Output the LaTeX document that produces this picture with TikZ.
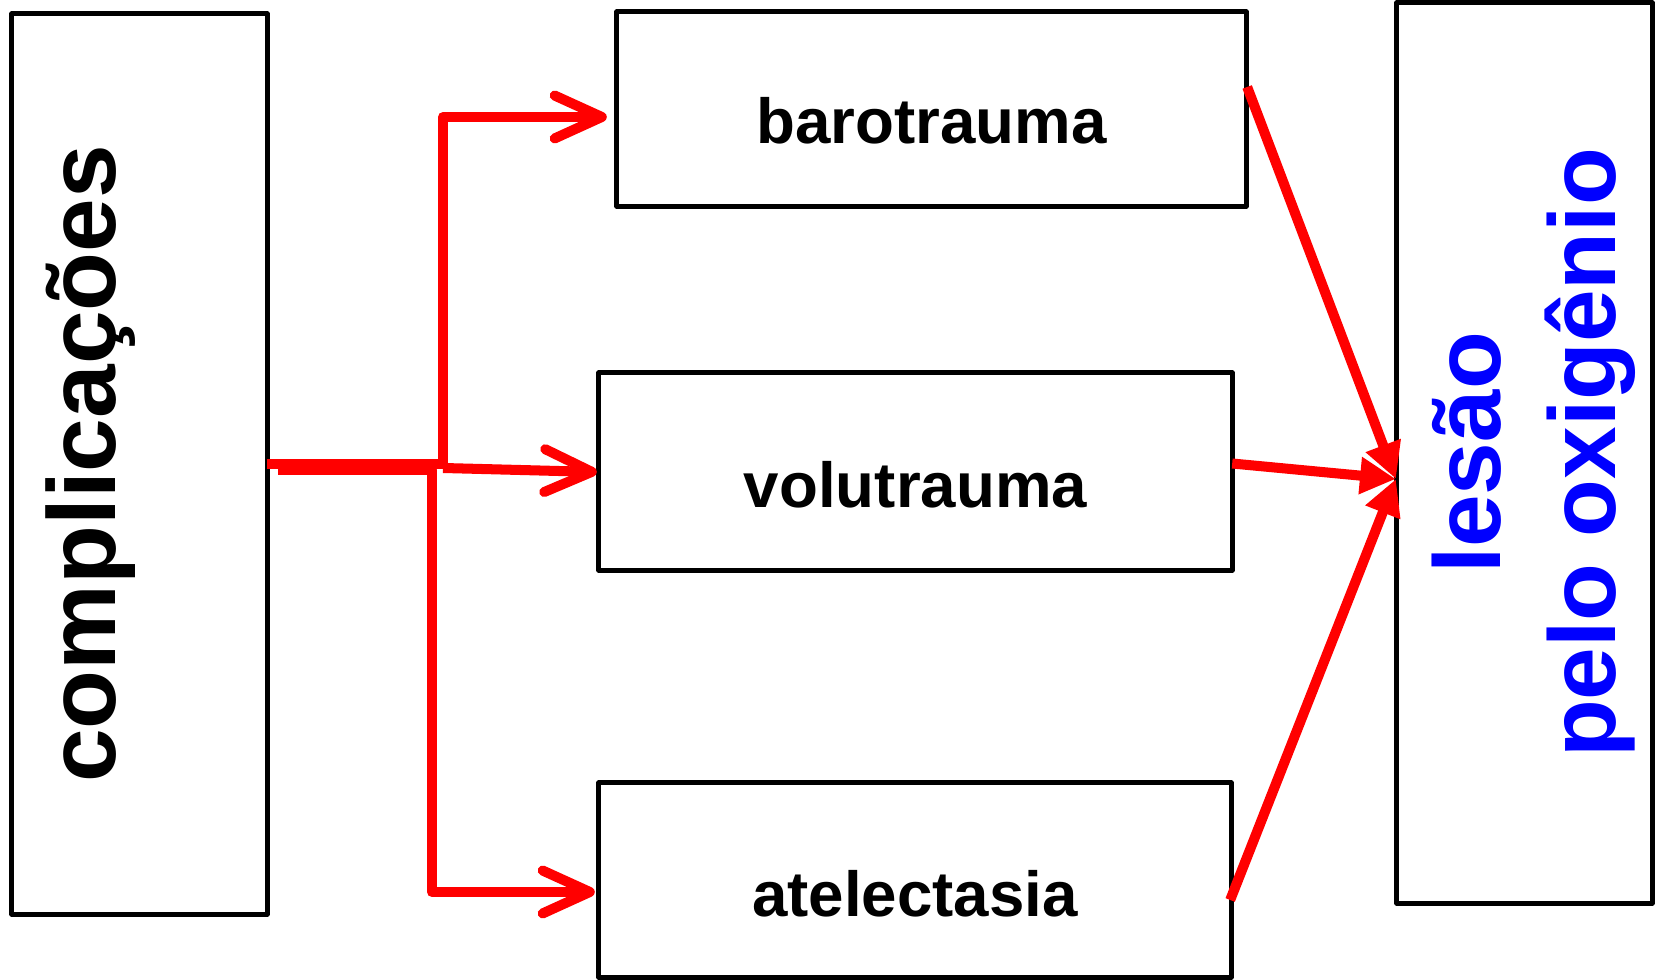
\documentclass[tikz,border=0pt]{standalone}
\usepackage{fontspec}
\setmainfont{Liberation Sans}
\usetikzlibrary{arrows.meta}
\definecolor{linkred}{RGB}{255,0,0}
\definecolor{oxblue}{RGB}{0,0,255}
\begin{document}
\begin{tikzpicture}[x=0.01cm, y=-0.01cm,
  frame/.style={draw=black, line width=1.42pt, line join=round, inner sep=0pt, outer sep=0pt},
  boxlabel/.style={font=\fontsize{18.1pt}{21pt}\selectfont\bfseries, anchor=base, inner sep=0pt},
  sidelabel/.style={font=\fontsize{27.4pt}{32pt}\selectfont\bfseries, anchor=base, rotate=90, inner sep=0pt},
  trunk/.style={draw=linkred, line width=2.85pt, line join=round},
  branch/.style={trunk, -{Straight Barb[length=13.4pt, width=12.2pt, round]}},
  merge/.style={draw=linkred, line width=2.85pt, -{Triangle[length=10.2pt, width=10pt]}},
]
\useasboundingbox (0,0) rectangle (1656,980);

% boxes
\node[frame, minimum width=2.55cm, minimum height=9.00cm] (comp) at (139.5,464) {};
\node[frame, minimum width=6.29cm, minimum height=1.94cm] (baro) at (931.5,109) {};
\node[frame, minimum width=6.33cm, minimum height=1.97cm] (volu) at (915.5,471.5) {};
\node[frame, minimum width=6.32cm, minimum height=1.94cm] (atel) at (915,880) {};
\node[frame, minimum width=2.55cm, minimum height=9.00cm] (lesao) at (1524.5,453) {};

% labels
\node[sidelabel] (tcomp) at (115,464) {complicações};
\node[boxlabel] (tbaro) at (931.5,144) {barotrauma};
\node[boxlabel] (tvolu) at (915.5,508) {volutrauma};
\node[boxlabel] (tatel) at (915,917) {atelectasia};
\node[sidelabel, text=oxblue, font=\fontsize{26.9pt}{32pt}\selectfont\bfseries] (tles1) at (1500,453) {lesão};
\node[sidelabel, text=oxblue, font=\fontsize{26.9pt}{32pt}\selectfont\bfseries] (tles2) at (1615,453) {pelo oxigênio};

% branching connectors
\coordinate (j1) at (443,464);
\coordinate (j1m) at (443,468);
\coordinate (j2s) at (278,470);
\coordinate (j2) at (432,470);
\draw[branch] (comp.east) -- (j1) |- ([shift={(-10,8)}]baro.west);
\draw[branch] (j1m) -- ([shift={(-2,0.5)}]volu.west);
\draw[branch] (j2s) -- (j2) |- ([shift={(-4,12)}]atel.west);

% converging connectors
\coordinate (meet) at ([shift={(-1,26)}]lesao.west);
\draw[merge] ([shift={(1,-22)}]baro.east) -- (meet);
\draw[merge] ([shift={(0,-8)}]volu.east) -- (meet);
\draw[merge] ([shift={(-1,20)}]atel.east) -- (meet);
\end{tikzpicture}
\end{document}
